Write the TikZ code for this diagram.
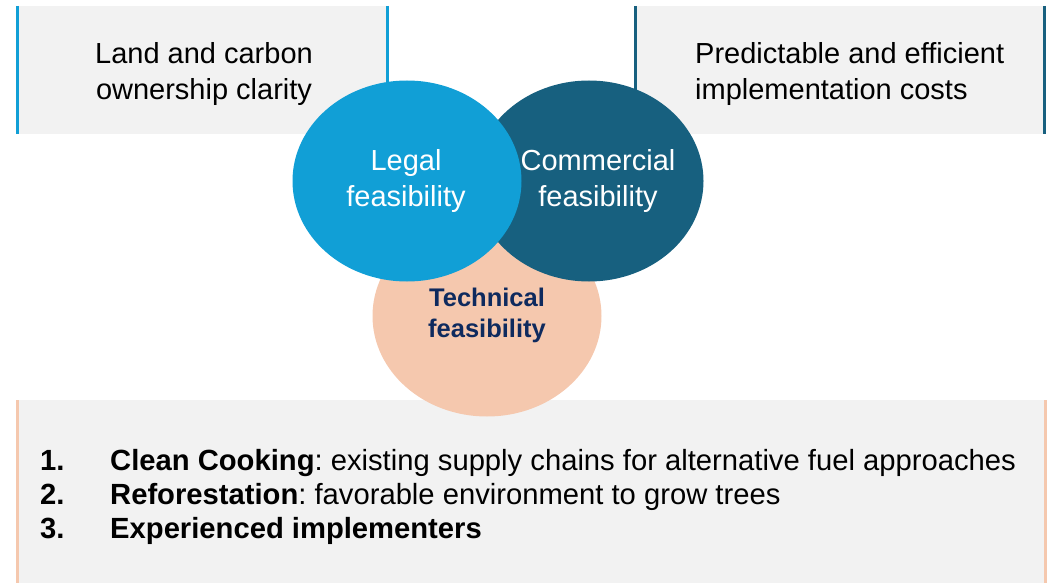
\documentclass[tikz,border=0pt]{standalone}
\usepackage{fontspec}
\setmainfont{Liberation Sans}
\frenchspacing
\definecolor{lblue}{HTML}{119FD6}
\definecolor{dblue}{HTML}{17607F}
\definecolor{peach}{HTML}{F5C8AE}
\definecolor{boxgray}{HTML}{F2F2F2}
\definecolor{navy}{HTML}{0E2A5E}
\tikzset{
  panel/.style={fill=boxgray, draw=none, inner sep=0pt, anchor=north west},
  bigtxt/.style={font=\fontsize{29}{36}\selectfont, align=center, inner sep=0pt},
  circ/.style={ellipse, draw=none, minimum width=229pt, minimum height=201pt, inner sep=0pt},
  listline/.style={font=\fontsize{29.2}{34}\selectfont, anchor=base west, inner sep=0pt},
  listnum/.style={listline, font=\fontsize{29.2}{34}\selectfont\bfseries},
}
\usetikzlibrary{shapes.geometric}
\begin{document}
\begin{tikzpicture}[x=1pt,y=-1pt]
\useasboundingbox (0,0) rectangle (1055,583);
% panels
\node[panel, minimum width=373pt, minimum height=128pt] (p1) at (16,6) {};
\node[panel, minimum width=412pt, minimum height=128pt] (p2) at (634,6) {};
\node[panel, minimum width=1031pt, minimum height=183pt] (p3) at (16,400) {};
\draw[lblue, line width=3pt] ([xshift=1.5pt]p1.north west) -- ([xshift=1.5pt]p1.south west);
\draw[lblue, line width=3pt] ([xshift=-1.5pt]p1.north east) -- ([xshift=-1.5pt]p1.south east);
\draw[dblue, line width=3pt] ([xshift=1.5pt]p2.north west) -- ([xshift=1.5pt]p2.south west);
\draw[dblue, line width=3pt] ([xshift=-1.5pt]p2.north east) -- ([xshift=-1.5pt]p2.south east);
\draw[peach, line width=3pt] ([xshift=1.5pt]p3.north west) -- ([xshift=1.5pt]p3.south west);
\draw[peach, line width=3pt] ([xshift=-1.5pt]p3.north east) -- ([xshift=-1.5pt]p3.south east);
% panel texts
\node[bigtxt] (t1) at (204,74) {Land and carbon\\ownership clarity};
\node[bigtxt, align=left, anchor=west] (t2) at (695,74) {Predictable and efficient\\implementation costs};
% circles
\node[circ, fill=peach] (tech) at (487,316) {};
\node[circ, fill=dblue] (comm) at (589,181) {};
\node[circ, fill=lblue] (legal) at (407,181) {};
\node[bigtxt, text=white] (legalt) at (406,181) {Legal\\feasibility};
\node[bigtxt, text=white] (commt) at (598,181) {Commercial\\feasibility};
\node[font=\fontsize{25.5}{31}\selectfont\bfseries, align=center, inner sep=0pt, text=navy] (techt) at (487,315) {Technical\\feasibility};
% list
\node[listnum] (n1) at (40,470) {1.};
\node[listline] (l1) at (110,470) {\textbf{Clean Cooking}: existing supply chains for alternative fuel approaches};
\node[listnum] (n2) at (40,504) {2.};
\node[listline] (l2) at (110,504) {\textbf{Reforestation}: favorable environment to grow trees};
\node[listnum] (n3) at (40,538) {3.};
\node[listline] (l3) at (110,538) {\textbf{Experienced implementers}};
\end{tikzpicture}
\end{document}
